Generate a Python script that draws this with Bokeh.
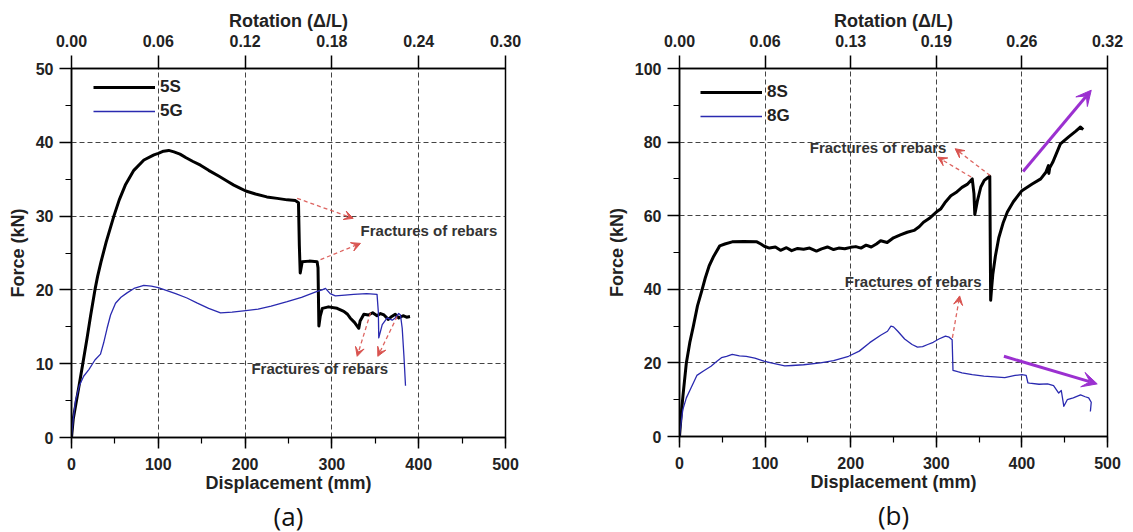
from bokeh.plotting import figure
from bokeh.models import (Range1d, LinearAxis, SingleIntervalTicker, FixedTicker,
                          Legend, LegendItem, Label, Arrow, VeeHead, Title)
from bokeh.layouts import row
from bokeh.embed import file_html
from bokeh.resources import INLINE

# ---------------- data: panel (a) ----------------
disp_5s = [0, 2, 5, 9, 13, 18, 22, 27, 30, 34, 40, 48.8, 55, 62, 71.8, 83.4, 95, 100, 106,
           112, 118, 125, 132, 140, 148.6, 158, 170, 180, 187, 194, 200.8, 212, 225, 237, 248.5, 258, 261.5, 262.5, 263.5,
           265.8, 274, 283, 284, 285, 286.5, 289, 296, 306, 313.7, 318, 321, 326, 331, 332.5, 336.8, 342, 347, 352, 356,
           360, 365, 369, 373, 377, 382, 386, 390]
force_5s = [0, 2.5, 4.5, 7.2, 10, 13.5, 16.5, 20, 21.8, 23.8, 26.5, 30, 32.2, 34.2, 36.2, 37.6, 38.3, 38.5, 38.8,
            38.9, 38.7, 38.4, 37.9, 37.4, 36.9, 36.2, 35.4, 34.7, 34.2, 33.8, 33.4, 33.0, 32.6, 32.4, 32.2, 32.1, 31.8, 26, 22.3,
            23.8, 23.9, 23.8, 23, 15.1, 16.4, 17.5, 17.7, 17.5, 17.1, 16.7, 16.2, 15.6, 14.8, 15.8, 16.7, 16.6, 16.9, 16.5, 16.8,
            16.6, 16.0, 16.4, 16.7, 16.2, 16.5, 16.3, 16.4]

disp_5g = [0, 2, 4.6, 9, 14, 20, 27, 33.4, 37, 41, 45, 50.7, 57, 64, 72, 83.3, 92, 99.9, 110, 120,
           133, 145, 158, 171.7, 185, 200.8, 215, 230, 248.5, 265, 283, 288.8, 292.6, 298, 304, 315, 325, 340, 352, 353.5,
           354, 358, 363.7, 369.5, 373, 377, 379, 381, 383, 384.8]
force_5g = [0, 2.5, 5, 7, 8.3, 9.2, 10.5, 11.3, 12.8, 14.8, 16.6, 18.2, 19, 19.6, 20.2, 20.6, 20.5, 20.3, 19.9, 19.5,
            18.9, 18.2, 17.5, 16.9, 17.0, 17.2, 17.4, 17.8, 18.4, 19.0, 19.8, 20.0, 20.2, 19.5, 19.2, 19.3, 19.4, 19.5, 19.4, 17,
            13.5, 15.3, 16.2, 15.9, 16.2, 16.8, 16.6, 14.8, 11, 7]

# ---------------- data: panel (b) ----------------
disp_8s = [0, 2, 4, 8, 12, 16.2, 21, 26.5, 30, 34.7, 40, 47, 53, 61.6, 75, 90.4, 95, 99, 105, 112,
           118, 125, 131, 138, 145, 152, 160, 166, 172.8, 180, 186, 193, 200, 206, 212, 218, 224, 230, 235, 242.6,
           250, 258, 266, 274, 280, 285, 292, 300, 305, 310, 317, 323, 330, 336, 342, 344, 345, 348, 352, 356,
           360, 362.5, 363.5, 364.5, 366, 369, 373, 378, 383, 390, 400, 412, 422, 428, 431, 431.5, 432.5, 436, 445, 455,
           463, 468.5, 471.6]
force_8s = [0, 6, 11, 20, 25.5, 30, 35.5, 40, 43, 46.4, 49, 51.8, 52.3, 52.9, 53, 52.9, 52.3, 51.7, 51.2, 51.5,
            50.6, 51.3, 50.5, 51.1, 50.9, 51.2, 50.4, 51.0, 51.5, 50.8, 51.2, 51.0, 51.4, 51.6, 51.2, 52.0, 51.5, 52.3, 53.2, 52.7,
            54, 54.8, 55.5, 56, 57, 58.2, 59.3, 61, 61.8, 63.5, 65.4, 66.3, 67.7, 68.5, 70, 66, 60.3, 64, 67.8, 69.6,
            70.3, 70.7, 37, 40, 44, 49, 54, 58, 61, 63.8, 66.8, 68.6, 70, 71.8, 73.6, 71.5, 73, 74.5, 79.5, 81.5,
            83, 84.1, 83.4]

disp_8g = [0, 2, 3.9, 8, 13, 20.3, 28, 36.8, 43, 49, 55, 61.6, 70, 78, 88, 98.6, 107, 115, 123, 131.5,
           145, 164.6, 180, 197.5, 210, 222.2, 235, 243, 247, 250, 255, 263, 271.7, 278, 284, 290, 296.4, 303, 310.7, 315,
           318.5, 319.5, 325, 330, 342, 355.5, 368, 380, 392, 400, 405, 407, 409, 420, 430, 437, 443, 446, 449, 453,
           460, 468.5, 474, 478, 481, 480]
force_8g = [0, 4, 7.3, 10.5, 13, 16.6, 17.8, 19.1, 20.3, 21.4, 21.8, 22.3, 21.9, 21.8, 21.3, 20.5, 20.0, 19.6, 19.2, 19.3,
            19.5, 20.0, 20.6, 21.8, 23.2, 25.5, 27.5, 28.6, 30, 29.8, 28.6, 26.5, 25, 24.3, 24.4, 25, 25.6, 26.5, 27.3, 27.0,
            26.3, 18, 17.6, 17.3, 16.8, 16.4, 16.2, 16.0, 16.6, 16.8, 16.6, 14.6, 14.5, 14.2, 14.3, 13.8, 11.8, 12.5, 8.2, 10,
            10.5, 11.3, 10.8, 10.5, 9.3, 6.8]

# ---------------- axis tick labels ----------------
disp_ticks = [0, 100, 200, 300, 400, 500]
rotation_labels_a = ["0.00", "0.06", "0.12", "0.18", "0.24", "0.30"]
rotation_labels_b = ["0.00", "0.06", "0.13", "0.19", "0.26", "0.32"]

# ---------------- annotation anchors (data units) ----------------
ann_text = "Fractures of rebars"
a_text_pos = [(333, 28.1, "left"), (286, 9.4, "center")]
a_arrows = [(260, 32.4, 324.5, 29.7), (286.9, 24.1, 332.9, 26.3),
            (344.5, 16.9, 329.1, 11.0), (375.2, 16.4, 352.9, 11.0)]
b_text_pos = [(232, 78.6, "center"), (273, 42.0, "center")]
b_arrows = [(363, 70.9, 322, 78.2), (340.7, 70.5, 301.7, 75.9), (318.8, 26.8, 327.3, 38.2)]
b_trend_arrows = [(401.4, 72, 481, 94.1), (379, 21.8, 488, 14.3)]

FONT = "Liberation Sans"
TXT = "#222222"
RED = "#d9534f"
PURPLE = "#9b30d0"
BLUE = "#2a2ab0"

for a, b in [(disp_5s, force_5s), (disp_5g, force_5g), (disp_8s, force_8s), (disp_8g, force_8g)]:
    assert len(a) == len(b), (len(a), len(b))


def style_axis(ax, tick_out, minor_out):
    ax.axis_line_color = "black"
    ax.axis_line_width = 1.5
    ax.major_tick_line_color = "black"
    ax.major_tick_line_width = 1.5
    ax.minor_tick_line_color = "black"
    ax.minor_tick_line_width = 1.2
    ax.major_tick_in = 0
    ax.major_tick_out = tick_out
    ax.minor_tick_in = 0
    ax.minor_tick_out = minor_out
    ax.major_label_text_font = FONT
    ax.major_label_text_font_style = "bold"
    ax.major_label_text_font_size = "16px"
    ax.major_label_text_color = TXT
    ax.axis_label_text_font = FONT
    ax.axis_label_text_font_style = "bold"
    ax.axis_label_text_font_size = "18px"
    ax.axis_label_text_color = TXT


def make_panel(ymax, yint, rot_labels, s_x, s_y, g_x, g_y, names, fw, fh, borders, legend_loc,
               texts, arrows, trend_arrows, tag):
    bl, br, bt, bb = borders
    p = figure(frame_width=fw, frame_height=fh,
               x_range=Range1d(0, 500), y_range=Range1d(0, ymax),
               output_backend="svg", toolbar_location=None,
               min_border_left=bl, min_border_right=br, min_border_top=bt, min_border_bottom=bb)
    p.background_fill_color = "white"
    p.border_fill_color = "white"
    p.outline_line_color = "black"
    p.outline_line_width = 1.5

    xax = p.xaxis[0]
    yax = p.yaxis[0]
    xax.ticker = SingleIntervalTicker(interval=100, num_minor_ticks=2)
    yax.ticker = SingleIntervalTicker(interval=yint, num_minor_ticks=2)
    xax.axis_label = "Displacement (mm)"
    yax.axis_label = "Force (kN)"
    style_axis(xax, 11, 6)
    style_axis(yax, 12, 6)
    xax.major_label_standoff = 9
    xax.axis_label_standoff = 0
    yax.major_label_standoff = 6
    yax.axis_label_standoff = 5

    top = LinearAxis(ticker=FixedTicker(ticks=disp_ticks),
                     major_label_overrides={t: lab for t, lab in zip(disp_ticks, rot_labels)},
                     axis_label="Rotation (\u0394/L)")
    style_axis(top, 13, 0)
    top.major_label_standoff = 9
    top.axis_label_standoff = 1
    p.add_layout(top, "above")

    p.add_layout(Title(text=tag, align="center", text_font="Open Sans", text_font_size="26px",
                       text_font_style="normal", text_color="#111111", standoff=0,
                       text_line_height=0.85), "below")

    for g in (p.xgrid[0], p.ygrid[0]):
        g.grid_line_color = "#444444"
        g.grid_line_dash = "5 3"
        g.grid_line_width = 1

    rs = p.line(s_x, s_y, line_color="black", line_width=3, line_join="round")
    rg = p.line(g_x, g_y, line_color=BLUE, line_width=1.3, line_join="round")

    legend = Legend(items=[LegendItem(label=names[0], renderers=[rs]),
                           LegendItem(label=names[1], renderers=[rg])],
                    location=legend_loc, glyph_width=62, glyph_height=20, label_height=20,
                    label_standoff=5, padding=0, margin=0, spacing=4,
                    border_line_alpha=0, background_fill_alpha=0,
                    label_text_font=FONT, label_text_font_style="bold",
                    label_text_font_size="17px", label_text_color=TXT)
    p.add_layout(legend)

    for (tx, ty, al) in texts:
        p.add_layout(Label(x=tx, y=ty, text=ann_text, text_align=al, text_baseline="middle",
                           text_font=FONT, text_font_style="bold", text_font_size="15px",
                           text_color="#333333"))
    for (x0, y0, x1, y1) in arrows:
        p.add_layout(Arrow(x_start=x0, y_start=y0, x_end=x1, y_end=y1,
                           line_color=RED, line_width=1.3, line_dash="4 3", line_alpha=0.9,
                           end=VeeHead(size=9, fill_color=RED, line_color=RED, line_width=1)))
    for (x0, y0, x1, y1) in trend_arrows:
        p.add_layout(Arrow(x_start=x0, y_start=y0, x_end=x1, y_end=y1,
                           line_color=PURPLE, line_width=3,
                           end=VeeHead(size=15, fill_color=PURPLE, line_color=PURPLE, line_width=1)))
    return p


pa = make_panel(50, 10, rotation_labels_a, disp_5s, force_5s, disp_5g, force_5g, ("5S", "5G"),
                434, 369, (71, 96, 68, 70), (22, 316.3), a_text_pos, a_arrows, [], "(a)")
pb = make_panel(100, 20, rotation_labels_b, disp_8s, force_8s, disp_8g, force_8g, ("8S", "8G"),
                428, 368, (78, 18, 68, 70), (21, 309.7), b_text_pos, b_arrows, b_trend_arrows, "(b)")

layout = row(pa, pb)
open("out.html", "w").write(file_html(layout, INLINE))
